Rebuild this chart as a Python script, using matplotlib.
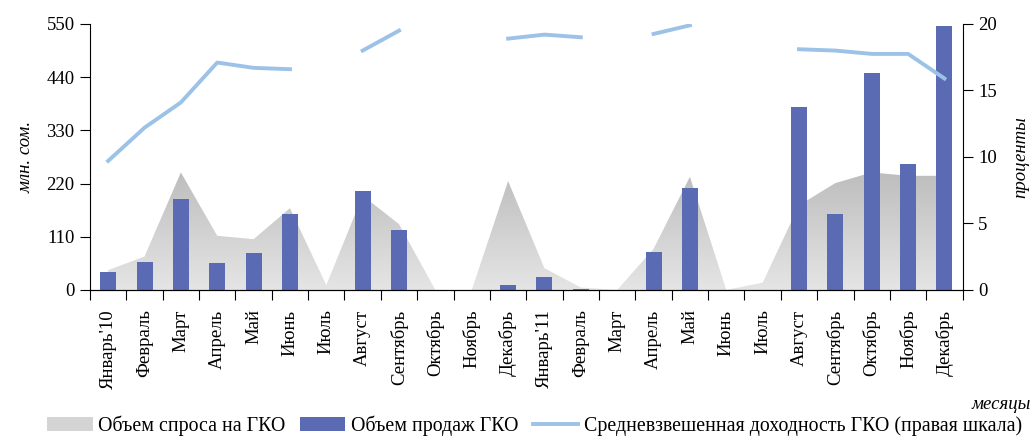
import numpy as np
import matplotlib.pyplot as plt
from matplotlib.colors import LinearSegmentedColormap
from matplotlib.patches import Patch
from matplotlib.lines import Line2D

plt.rcParams['font.family'] = ['Liberation Serif', 'DejaVu Serif']

months = ["Январь'10", "Февраль", "Март", "Апрель", "Май", "Июнь", "Июль", "Август",
          "Сентябрь", "Октябрь", "Ноябрь", "Декабрь", "Январь'11", "Февраль", "Март",
          "Апрель", "Май", "Июнь", "Июль", "Август", "Сентябрь", "Октябрь", "Ноябрь", "Декабрь"]

demand = [41, 69, 243, 112, 105, 169, 10, 195, 136, 0, 0, 225,
          45, 5, 0, 85, 234, 0, 15, 175, 221, 243, 236, 236]
sales = [37, 58, 188, 56, 77, 157, 0, 205, 124, 0, 0, 10,
         27, 2, 0, 79, 211, 0, 0, 378, 157, 449, 261, 546]
yield_pct = [9.7, 12.2, 14.1, 17.1, 16.7, 16.6, np.nan, 18.0, 19.5, np.nan, np.nan, 18.9,
             19.2, 19.0, np.nan, 19.25, 19.9, np.nan, np.nan, 18.1, 18.0, 17.75, 17.75, 15.9]

x = np.arange(len(months))
bar_color = "#5b6bb3"
line_color = "#9cc2e8"

fig = plt.figure(figsize=(10.34, 4.36), dpi=100)
ax = fig.add_axes([0.087, 0.335, 0.844, 0.61])

# demand area with vertical gradient
poly = ax.fill_between(x, 0, demand, color="none", linewidth=0, zorder=1)
cmap = LinearSegmentedColormap.from_list("g", ["#e4e5e4", "#bdbdbd"])
grad = np.linspace(0, 1, 256).reshape(-1, 1)
img = ax.imshow(grad, cmap=cmap, origin="lower", aspect="auto",
                extent=[x[0], x[-1], 0, 245], zorder=1)
img.set_clip_path(poly.get_paths()[0], transform=ax.transData)

ax.bar(x, sales, width=0.44, color=bar_color, zorder=2)

ax.set_xlim(-0.5, len(months) - 0.5)
ax.set_ylim(0, 550)
ax.set_yticks([0, 110, 220, 330, 440, 550])
ax.set_xticks(np.arange(len(months) + 1) - 0.5)
ax.set_xticklabels([])
ax.set_xticks(x, minor=True)
ax.set_xticklabels(months, minor=True, rotation=90)
ax.tick_params(axis="x", which="minor", length=0, pad=14, labelsize=13.5)
ax.tick_params(axis="x", which="major", length=7, direction="out")
ax.tick_params(axis="y", labelsize=13.5, length=7, pad=4)
ax.spines["top"].set_visible(False)
ax.spines["right"].set_visible(False)
ax.set_ylabel("млн. сом.", fontsize=13.5, style="italic", labelpad=9)

ax2 = ax.twinx()
ax2.plot(x, yield_pct, color=line_color, linewidth=2.8, zorder=3)
ax2.set_ylim(0, 20)
ax2.set_yticks([0, 5, 10, 15, 20])
ax2.tick_params(axis="y", labelsize=13.5, length=7, pad=4)
ax2.spines["top"].set_visible(False)
ax2.spines["left"].set_visible(False)
ax2.set_ylabel("проценты", fontsize=13.5, style="italic", labelpad=11)

fig.text(0.997, 0.062, "месяцы", fontsize=13.5, style="italic", ha="right", va="baseline")

handles = [Patch(facecolor="#d4d4d4", edgecolor="none"),
           Patch(facecolor=bar_color, edgecolor="none"),
           Line2D([0], [0], color=line_color, linewidth=2.8)]
labels = ["Объем спроса на ГКО", "Объем продаж ГКО", "Средневзвешенная доходность ГКО (правая шкала)"]
fig.legend(handles, labels, loc="lower left", bbox_to_anchor=(0.028, -0.04), ncol=3,
           frameon=False, fontsize=14.3, handlelength=2.3, handletextpad=0.3, columnspacing=0.7)

fig.savefig("out.png", dpi=100)
